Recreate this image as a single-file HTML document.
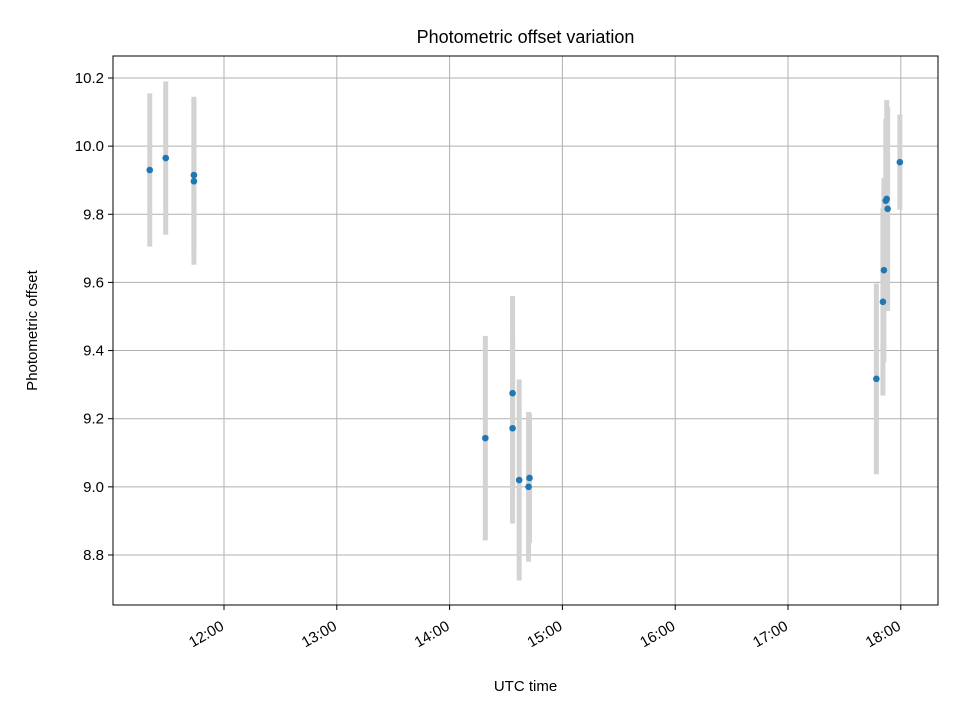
<!DOCTYPE html>
<html><head><meta charset="utf-8"><style>
body{margin:0;background:#fff;}
svg{display:block;font-family:"Liberation Sans","DejaVu Sans",sans-serif;}
</style></head><body>
<svg id="chart" width="960" height="720"></svg>
<script>
const times = ["11:20.5","11:29","11:44","11:44","14:19","14:33.5","14:33.5","14:37","14:42","14:42.5","17:47","17:50.5","17:51","17:52","17:52.5","17:53","17:59.5"];
const offsets = [9.93,9.965,9.915,9.897,9.143,9.275,9.172,9.02,9.0,9.026,9.317,9.543,9.636,9.84,9.845,9.816,9.953];
const errors = [0.225,0.225,0.23,0.245,0.3,0.285,0.28,0.295,0.22,0.19,0.28,0.275,0.27,0.24,0.29,0.3,0.14];
const xTickLabels = ["12:00","13:00","14:00","15:00","16:00","17:00","18:00"];
const yTickLabels = ["8.8","9.0","9.2","9.4","9.6","9.8","10.0","10.2"];

const NS="http://www.w3.org/2000/svg";
const svg=document.getElementById('chart');
const L=113,R=938,T=56,B=605;
function toH(s){const p=s.split(':');return +p[0]+ (+p[1])/60;}
function xs(h){return 224+(h-12)*112.8;}
function ys(v){return 78+(10.2-v)*340.7;}
function mk(tag,attrs,parent){const e=document.createElementNS(NS,tag);for(const k in attrs)e.setAttribute(k,attrs[k]);(parent||svg).appendChild(e);return e;}

const grid=mk('g',{});


xTickLabels.forEach(t=>{const x=xs(toH(t));
 const l=mk('line',{x1:x,x2:x,y1:T,y2:B,stroke:'#b0b0b0','stroke-width':1},grid);
 
 
 mk('line',{x1:x,x2:x,y1:B,y2:B+5,stroke:'#000'});
 const px=x+1, py=B+24;
 const tx=mk('text',{x:px,y:py,'font-size':15,'text-anchor':'end',transform:`rotate(-30 ${px} ${py})`});
 tx.textContent=t;
 
 
});
yTickLabels.forEach(t=>{const y=ys(+t);
 const l=mk('line',{x1:L,x2:R,y1:y,y2:y,stroke:'#b0b0b0','stroke-width':1},grid);
 
 
 mk('line',{x1:L-5,x2:L,y1:y,y2:y,stroke:'#000'});
 const tx=mk('text',{x:L-9,y:y+5,'font-size':15,'text-anchor':'end'});
 tx.textContent=t;
 
 
});
const eb=mk('g',{});


times.forEach((t,i)=>{const x=xs(toH(t));
 const l=mk('line',{x1:x,x2:x,y1:ys(offsets[i]+errors[i]),y2:ys(offsets[i]-errors[i]),stroke:'#d3d3d3','stroke-width':5},eb);
 
 
});
const pts=mk('g',{});


times.forEach((t,i)=>{
 const c=mk('circle',{cx:xs(toH(t)),cy:ys(offsets[i]),r:3.3,fill:'#1f77b4'},pts);
 
 
});
const fr=mk('rect',{x:L,y:T,width:R-L,height:B-T,fill:'none',stroke:'#000','stroke-width':1});


const ti=mk('text',{x:(L+R)/2,y:43,'font-size':18,'text-anchor':'middle'});ti.textContent='Photometric offset variation';


const xl=mk('text',{x:(L+R)/2,y:691,'font-size':15,'text-anchor':'middle'});xl.textContent='UTC time';


const yl=mk('text',{x:37,y:(T+B)/2,'font-size':15,'text-anchor':'middle',transform:`rotate(-90 37 ${(T+B)/2})`});yl.textContent='Photometric offset';


</script>
</body></html>
